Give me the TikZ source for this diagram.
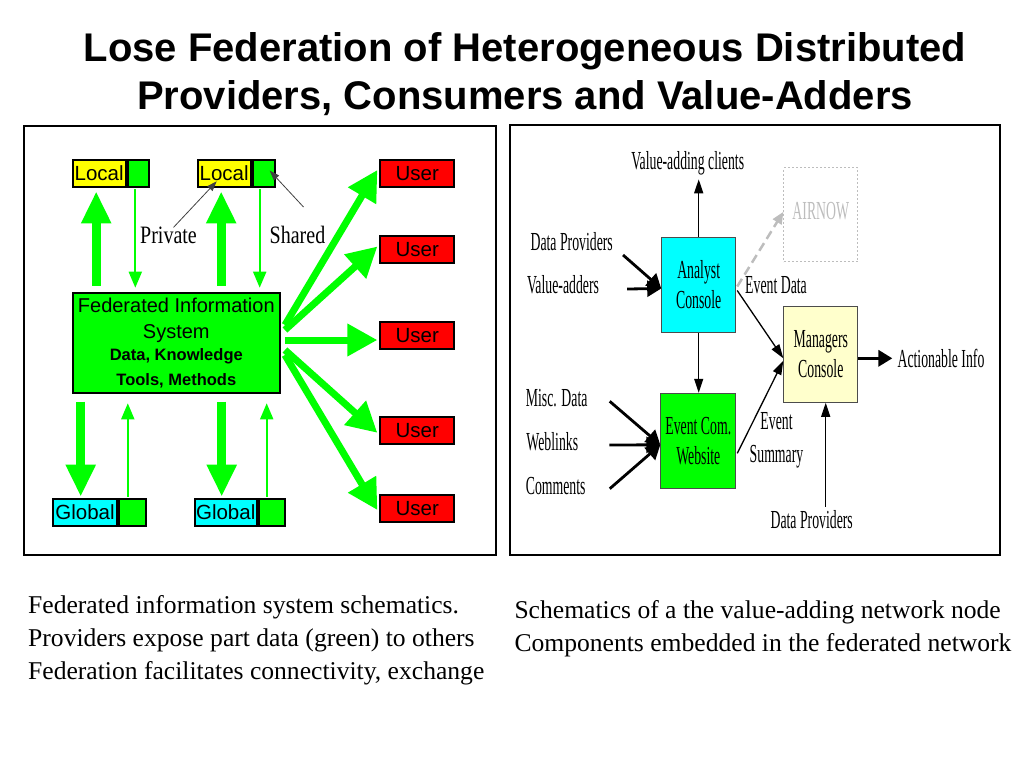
\documentclass[tikz,border=0pt]{standalone}
\usepackage{fontspec}
\setmainfont{Liberation Serif}
\newfontfamily\arialf{Liberation Sans}
\newfontfamily\condf[FakeStretch=0.53]{Liberation Serif}
\newfontfamily\semif[FakeStretch=0.8]{Liberation Serif}
\usetikzlibrary{arrows.meta,calc}
\definecolor{fgreen}{HTML}{00FF00}
\definecolor{fyellow}{HTML}{FFFF00}
\definecolor{fred}{HTML}{FF0000}
\definecolor{fcyan}{HTML}{00FFFF}
\definecolor{mcream}{HTML}{FFFFCC}
\definecolor{agray}{HTML}{BDBDBD}
\begin{document}
\begin{tikzpicture}[x=1pt,y=-1pt,
  panel/.style={draw=black, line width=2pt},
  lbox/.style={draw=black, line width=2pt, inner sep=0pt, font=\arialf\fontsize{20.5}{24}\selectfont},
  bigar/.style={draw=fgreen, line width=9pt, -{Triangle[width=28pt,length=32pt]}},
  thinar/.style={draw=fgreen, line width=2pt, -{Triangle[width=13pt,length=16pt]}},
  fan/.style={draw=fgreen, line width=7pt, -{Triangle[width=31pt,length=30pt]}},
  notear/.style={draw=black!75, line width=0.8pt, -{Triangle[width=7pt,length=10pt]}},
  rarrow/.style={draw=black, line width=1.3pt, -{Triangle[width=9pt,length=14pt]}},
  rthick/.style={draw=black, line width=2.8pt, -{Triangle[width=16pt,length=14pt]}},
  rbox/.style={draw=black!70, line width=1pt, minimum width=74pt, minimum height=95pt, inner sep=0pt, align=center, font=\condf\fontsize{26}{30}\selectfont},
  rlab/.style={font=\condf\fontsize{26}{30}\selectfont, inner sep=0pt},
  captxt/.style={anchor=base west, inner sep=0pt, font=\fontsize{25.6}{33}\selectfont},
  ttl/.style={anchor=base, inner sep=0pt, font=\arialf\bfseries\fontsize{40}{48}\selectfont}
]
\useasboundingbox (0,0) rectangle (1024,768);

% title
\node[ttl] (t1) at (525,61.7) {Lose Federation of Heterogeneous Distributed};
\node[ttl] (t2) at (525,109.3) {Providers, Consumers and Value-Adders};

% panels
\draw[panel] (24,126) rectangle (496,555);
\draw[panel] (510,125) rectangle (1000,555);

% ---------- left panel ----------
\node[lbox, fill=fyellow, minimum width=53pt, minimum height=27.5pt] (loc1) at (99.2,173.6) {Local};
\node[lbox, fill=fgreen, minimum width=21.5pt, minimum height=27.5pt] (loc1g) at (138.3,173.6) {};
\node[lbox, fill=fyellow, minimum width=53pt, minimum height=27.5pt] (loc2) at (224.2,173.6) {Local};
\node[lbox, fill=fgreen, minimum width=22pt, minimum height=27.5pt] (loc2g) at (263.7,173.6) {};

\node[lbox, fill=fcyan, minimum width=64.6pt, minimum height=27.6pt] (glob1) at (85,512.5) {Global};
\node[lbox, fill=fgreen, minimum width=27pt, minimum height=27.6pt] (glob1g) at (132.8,512.5) {};
\node[lbox, fill=fcyan, minimum width=62pt, minimum height=27.6pt] (glob2) at (225.7,512.5) {Global};
\node[lbox, fill=fgreen, minimum width=26pt, minimum height=27.6pt] (glob2g) at (271.7,512.5) {};

\foreach \n/\yy in {1/173.5,2/249.5,3/335.3,4/430.8,5/508.5}
  \node[lbox, fill=fred, minimum width=73.7pt, minimum height=27pt] (user\n) at (417.2,\yy) {User};

\node[lbox, fill=fgreen, minimum width=207.3pt, minimum height=100.6pt, align=center,
      font=\arialf\fontsize{20}{27}\selectfont] (fis) at (176.3,343)
  {\raisebox{-3pt}{Federated Information}\\\raisebox{-2pt}{System}\\[-3pt]{\bfseries\fontsize{16.5}{20}\selectfont Data, Knowledge}\\[-2pt]{\bfseries\fontsize{16.5}{20}\selectfont Tools, Methods}};

% vertical arrows top
\draw[bigar] ($(fis.north -| loc1)+(-3,-6)$) -- ($(loc1.south)+(-3,3)$);
\draw[thinar] ($(loc1g.south)+(-3,1)$) -- ($(fis.north -| loc1g)+(-3,-4)$);
\draw[bigar] ($(fis.north -| loc2)+(-3,-6)$) -- ($(loc2.south)+(-3,3)$);
\draw[thinar] ($(loc2g.south)+(-4,1)$) -- ($(fis.north -| loc2g)+(-4,-4)$);
% vertical arrows bottom
\draw[bigar] ($(fis.south -| glob1)+(-4.3,7.4)$) -- ($(glob1.north)+(-4.3,-1)$);
\draw[thinar] ($(glob1g.north)+(-5,-1)$) -- ($(fis.south -| glob1g)+(-5,9)$);
\draw[bigar] ($(fis.south -| glob2)+(-4,7.4)$) -- ($(glob2.north)+(-4,-1)$);
\draw[thinar] ($(glob2g.north)+(-5,-1)$) -- ($(fis.south -| glob2g)+(-5,9)$);

% fan arrows
\draw[fan] ($(fis.east)+(4,-18)$) -- ($(user1.west)+(-2,-3.5)$);
\draw[fan] ($(fis.east)+(4,-13)$) -- ($(user2.west)+(-2,-3)$);
\draw[fan] ($(fis.east)+(4,-3)$) -- ($(user3.west)+(-2,4.7)$);
\draw[fan] ($(fis.east)+(4,7)$) -- ($(user4.west)+(-2,2)$);
\draw[fan] ($(fis.east)+(4,12)$) -- ($(user5.west)+(-2,1.5)$);

% private / shared
\node[inner sep=0pt, font=\semif\fontsize{25}{28}\selectfont] (priv) at (168.5,235) {Private};
\node[inner sep=0pt, font=\semif\fontsize{25}{28}\selectfont] (shared) at (297.5,235) {Shared};
\draw[notear] ($(priv.north)+(5,1)$) -- ($(loc2.south west)+(20,-7)$);
\draw[notear] ($(shared.north)+(6,-19)$) -- ($(loc2g.center)+(6,-3)$);

% ---------- right panel ----------
\node[rbox, fill=fcyan] (analyst) at (698.7,284.5) {Analyst\\Console};
\node[rbox, fill=fgreen, minimum width=75pt] (event) at (698.3,440.8) {Event Com.\\Website};
\node[rbox, fill=mcream, minimum height=96pt] (managers) at (820.8,354.3) {Managers\\Console};
\node[draw=agray, dash pattern=on 2pt off 2pt, line width=0.8pt, minimum width=74pt, minimum height=94pt,
      inner sep=0pt, text=agray, font=\condf\fontsize{26}{30}\selectfont] (airnow) at (820.8,214.8) {\raisebox{7pt}{AIRNOW}};

\node[rlab] (vac) at (687.7,163.3) {Value-adding clients};
\node[rlab] (dp1) at (571.7,241.7) {Data Providers};
\node[rlab] (va) at (563,285) {Value-adders};
\node[rlab] (misc) at (556.7,398.3) {Misc. Data};
\node[rlab] (web) at (552.3,441.7) {Weblinks};
\node[rlab] (com) at (555.7,485.7) {Comments};
\node[rlab] (evd) at (776,285) {Event Data};
\node[rlab, align=center, font=\condf\fontsize{26}{32.5}\selectfont] (evs) at (776.5,440.3) {Event\\Summary};
\node[rlab] (act) at (941,358) {Actionable Info};
\node[rlab] (dp2) at (811.7,520) {Data Providers};

\draw[rarrow] (analyst.north) -- ($(analyst.north |- vac.south)+(0,4)$);
\draw[rarrow] (analyst.south) -- (analyst.south |- event.north);
\draw[rthick] ($(dp1.east)+(10,13.3)$) -- ($(analyst.west)+(0,4)$);
\draw[rthick] ($(va.east)+(28,4)$) -- ($(analyst.west)+(0,4)$);
\draw[rthick] ($(misc.east)+(22,3)$) -- ($(event.west)+(0,4)$);
\draw[rthick] ($(web.east)+(31,3.3)$) -- ($(event.west)+(0,4)$);
\draw[rthick] ($(com.east)+(24,3)$) -- ($(event.west)+(0,4)$);
\draw[rarrow] ($(analyst.east)+(1,6)$) -- ($(managers.west)+(0,4)$);
\draw[rarrow] ($(event.east)+(1,12.5)$) -- ($(managers.west)+(0,6.4)$);
\draw[draw=agray, line width=2.5pt, dash pattern=on 9pt off 5pt, -{Triangle[width=10pt,length=12pt]}]
  ($(analyst.east)+(1,2)$) -- ($(airnow.west)+(0,-3)$);
\draw[rthick, line width=3.3pt] ($(managers.east)+(0,4)$) -- ($(act.west)+(-5,0.3)$);
\coordinate (dp2s) at ($(dp2.north)+(14,-4)$);
\draw[rarrow] (dp2s) -- (dp2s |- managers.south);

% captions
\node[captxt] (c1) at (28,613.3) {Federated information system schematics.};
\node[captxt] (c2) at (28,646.3) {Providers expose part data (green) to others};
\node[captxt] (c3) at (28,679.3) {Federation facilitates connectivity, exchange};
\node[captxt] (c4) at (514.3,618.3) {Schematics of a the value-adding network node};
\node[captxt] (c5) at (514.3,651.6) {Components embedded in the federated network};
\end{tikzpicture}
\end{document}
